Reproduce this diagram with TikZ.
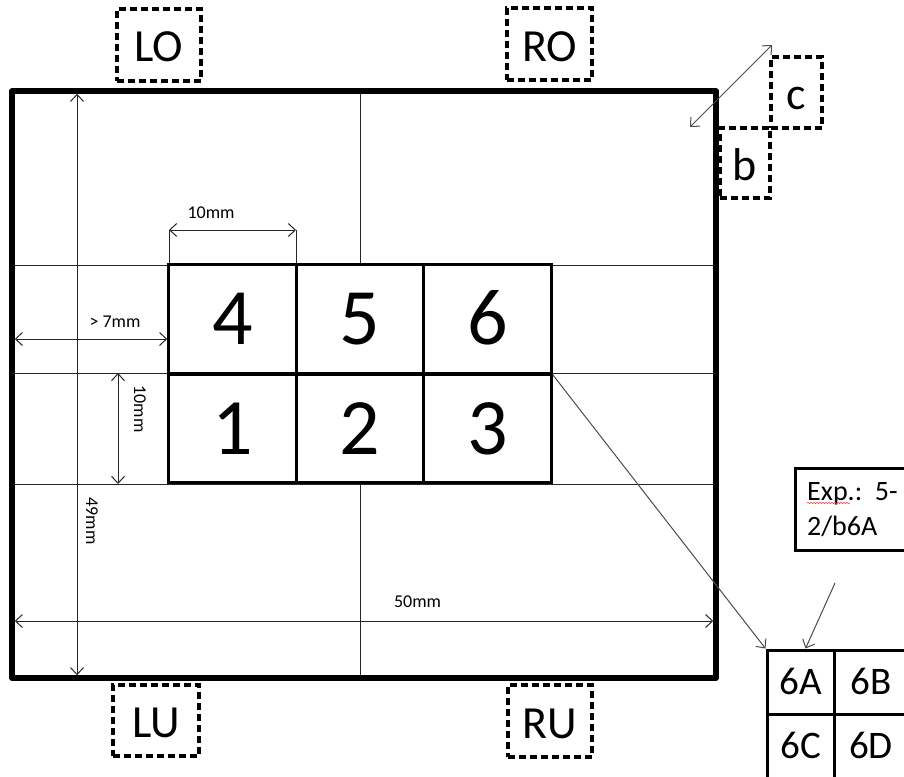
\documentclass[tikz,border=0pt]{standalone}
\usepackage{fontspec}
\setmainfont{Carlito}
\usetikzlibrary{arrows.meta,decorations.pathmorphing}
\tikzset{
  gline/.style={line width=1pt, draw=black!85},
  tipb/.tip={Straight Barb[length=7pt,width=13pt]},
  dimarrow/.style={gline, tipb-tipb},
  onearrow/.style={line width=1pt, draw=black!70, -tipb},
  twoarrow/.style={line width=1pt, draw=black!70, tipb-tipb},
  cell/.style={draw, line width=3pt, minimum width=127.5pt, minimum height=108.5pt,
    inner sep=0pt, font=\fontsize{80}{80}\selectfont, text height=51pt, text depth=0pt},
  gcell/.style={draw, line width=3pt, minimum width=67pt, minimum height=64pt,
    inner sep=0pt, font=\fontsize{39}{39}\selectfont, text height=25pt, text depth=0pt},
  dbox/.style={draw, line width=3.2pt, dash pattern=on 7pt off 4pt, inner sep=0pt,
    font=\fontsize{46}{46}\selectfont, text height=34pt, text depth=0pt},
  lbl/.style={inner sep=0pt, font=\fontsize{18}{18}\selectfont},
}
\begin{document}
\begin{tikzpicture}[x=1pt,y=-1pt]
\clip (0,0) rectangle (904,776);
\fill[white] (0,0) rectangle (904,776);
% thin grid lines
\draw[gline] (12,265) -- (716,265);
\draw[gline] (12,373) -- (716,373);
\draw[gline] (12,484) -- (716,484);
\draw[gline] (360,91) -- (360,265);
\draw[gline] (360,484) -- (360,678);
% extension lines for top 10mm
\draw[gline] (169,230) -- (169,265);
\draw[gline] (296,230) -- (296,265);
% frame
\node[draw, line width=5.5pt, line join=round, minimum width=704pt, minimum height=587pt, inner sep=0pt] (frame) at (364,384.5) {};
% cells
\node[cell] (n4) at (232.5,319) {4};
\node[cell] (n5) at (360,319) {5};
\node[cell] (n6) at (487.5,319) {6};
\node[cell] (n1) at (232.5,428.5) {1};
\node[cell] (n2) at (360,428.5) {2};
\node[cell] (n3) at (487.5,428.5) {3};
% dimension arrows
\coordinate (d49a) at (77,93.75);
\coordinate (d49b) at (77,675.25);
\draw[dimarrow] (d49a) -- (d49b);
\coordinate (d50a) at (14.75,621);
\coordinate (d50b) at (713.25,621);
\draw[dimarrow] (d50a) -- (d50b);
\coordinate (d7a) at (14.75,339);
\draw[dimarrow] (d7a) -- (n4.west |- d7a);
\coordinate (d10a) at (169,230);
\coordinate (d10b) at (296,230);
\draw[dimarrow] (d10a) -- (d10b);
\coordinate (dv10a) at (118,373);
\coordinate (dv10b) at (118,484);
\draw[dimarrow] (dv10a) -- (dv10b);
% labels
\node[lbl, anchor=base] (t10h) at (211,218) {10mm};
\node[lbl, anchor=base] (t7) at (115,327) {> 7mm};
\node[lbl, rotate=-90] (t10v) at (140,409) {10mm};
\node[lbl, rotate=-90] (t49) at (92,521) {49mm};
\node[lbl, anchor=base] (t50) at (417.5,607) {50mm};
% dashed boxes
\node[dbox, minimum width=84pt, minimum height=72pt] (LO) at (159,45) {LO};
\node[dbox, minimum width=85pt, minimum height=72pt] (RO) at (549.5,44) {RO};
\node[dbox, minimum width=86pt, minimum height=71pt] (LU) at (156,720.5) {LU};
\node[dbox, minimum width=84pt, minimum height=72pt] (RU) at (550,721) {RU};
\node[dbox, minimum width=50pt, minimum height=70pt] (bb) at (745,163) {b};
\node[dbox, minimum width=51pt, minimum height=71pt] (cc) at (796.5,92.5) {c};
% corner double arrow
\coordinate (ca) at (690,127);
\coordinate (cb) at (772,45);
\draw[twoarrow] (ca) -- (cb);
% detail grid
\node[gcell] (g6A) at (800.5,682) {6A};
\node[gcell, minimum width=74pt] (g6B) at (871,682) {6B};
\node[gcell] (g6C) at (800.5,746) {6C};
\node[gcell, minimum width=74pt] (g6D) at (871,746) {6D};
\draw[onearrow] (n6.south east) -- (g6A.north west);
% example box
\node[draw, line width=3pt, minimum width=140pt, minimum height=82pt, anchor=north west, inner sep=0pt] (exp) at (794,467) {};
\node[anchor=north west, inner sep=0pt, align=left, font=\fontsize{28}{35}\selectfont] (exptxt) at (807,482) {Exp.:\ \ 5-\\2/b6A};
\draw[red!75, line width=0.6pt, decorate, decoration={snake, amplitude=0.7pt, segment length=3pt}] (807,503) -- (850,503);
\coordinate (ea) at (835,583);
\draw[onearrow] (ea) -- ([xshift=5pt]g6A.north);
\end{tikzpicture}
\end{document}
